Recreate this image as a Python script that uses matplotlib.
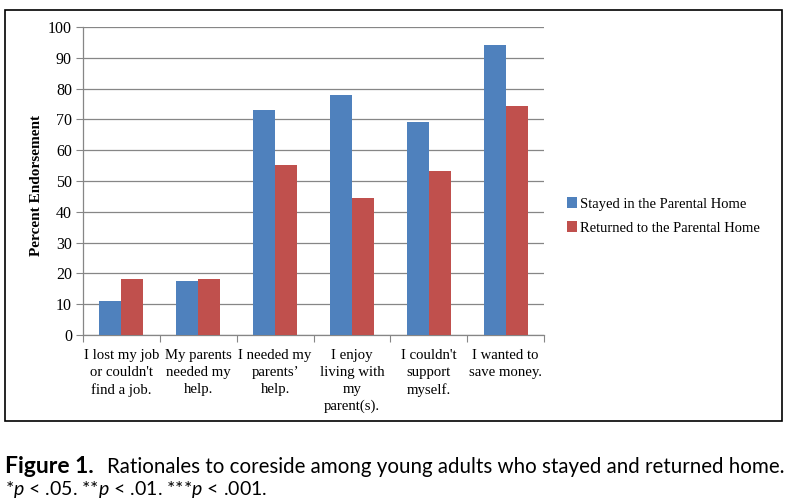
import matplotlib.pyplot as plt
import numpy as np
from matplotlib.patches import Rectangle

categories = ["I lost my job\nor couldn't\nfind a job.",
              "My parents\nneeded my\nhelp.",
              "I needed my\nparents\u2019\nhelp.",
              "I enjoy\nliving with\nmy\nparent(s).",
              "I couldn't\nsupport\nmyself.",
              "I wanted to\nsave money."]
stayed = [11.1, 17.5, 73.0, 78.0, 69.3, 94.0]
returned = [18.2, 18.2, 55.1, 44.4, 53.3, 74.5]
series_names = ["Stayed in the Parental Home", "Returned to the Parental Home"]

blue = "#4f81bd"
red = "#c0504d"
serif = "Liberation Serif"

plt.rcParams["mathtext.fontset"] = "custom"
plt.rcParams["mathtext.rm"] = "Lato"
plt.rcParams["mathtext.it"] = "Lato:italic"
plt.rcParams["mathtext.bf"] = "Lato:bold"

fig = plt.figure(figsize=(7.92, 5.03), dpi=100)
ax = fig.add_axes([83/792, 1 - 335/503, 461/792, 308/503])

x = np.arange(len(categories))
w = 0.287
ax.bar(x - w/2, stayed, w, color=blue, label=series_names[0], zorder=3)
ax.bar(x + w/2, returned, w, color=red, label=series_names[1], zorder=3)

ax.set_xlim(-0.5, len(categories) - 0.5)
ax.set_ylim(0, 100)
ax.set_yticks(range(0, 101, 10))
ax.yaxis.grid(True, color="#868686", linewidth=0.9, zorder=0)
ax.set_xticks(np.arange(-0.5, len(categories), 1.0))
ax.set_xticklabels([])
ax.set_xticks(x, minor=True)
ax.set_xticklabels(categories, minor=True, fontsize=10.6, family=serif,
                   linespacing=1.4, va="top")
ax.tick_params(axis="x", which="minor", length=0, pad=10)
ax.tick_params(axis="x", which="major", length=5, color="#868686", direction="out")
ax.tick_params(axis="y", length=5, color="#868686", direction="out", pad=3)
for lab in ax.get_yticklabels():
    lab.set_family(serif)
    lab.set_fontsize(11.5)
for s in ["top", "right"]:
    ax.spines[s].set_visible(False)
for s in ["left", "bottom"]:
    ax.spines[s].set_color("#868686")
    ax.spines[s].set_linewidth(0.9)

fig.text(37/792, 1 - 185/503, "Percent Endorsement", rotation=90, ha="center",
         va="center", fontsize=11, fontweight="bold", family=serif)

ax.legend(loc="center left", bbox_to_anchor=(554/792, 1 - 216/503),
          bbox_transform=fig.transFigure, frameon=False,
          prop={"family": serif, "size": 10.5}, handlelength=0.7,
          handleheight=0.7, handletextpad=0.2, labelspacing=0.75)

fig.patches.append(Rectangle((5/792, 1 - 421/503), 777/792, 411/503,
                             transform=fig.transFigure, fill=False,
                             edgecolor="black", linewidth=1.2))

fig.text(5/792, 1 - 473/503, "Figure 1.", fontsize=16.5, va="baseline",
         family="Lato", fontweight="bold")
fig.text(107/792, 1 - 473/503,
         "Rationales to coreside among young adults who stayed and returned home.",
         fontsize=14.8, va="baseline", family="Lato")
fig.text(5/792, 1 - 495/503,
         r"*$\it{p}$ < .05. **$\it{p}$ < .01. ***$\it{p}$ < .001.",
         fontsize=14, va="baseline", family="Lato")

fig.savefig("out.png", dpi=100)
